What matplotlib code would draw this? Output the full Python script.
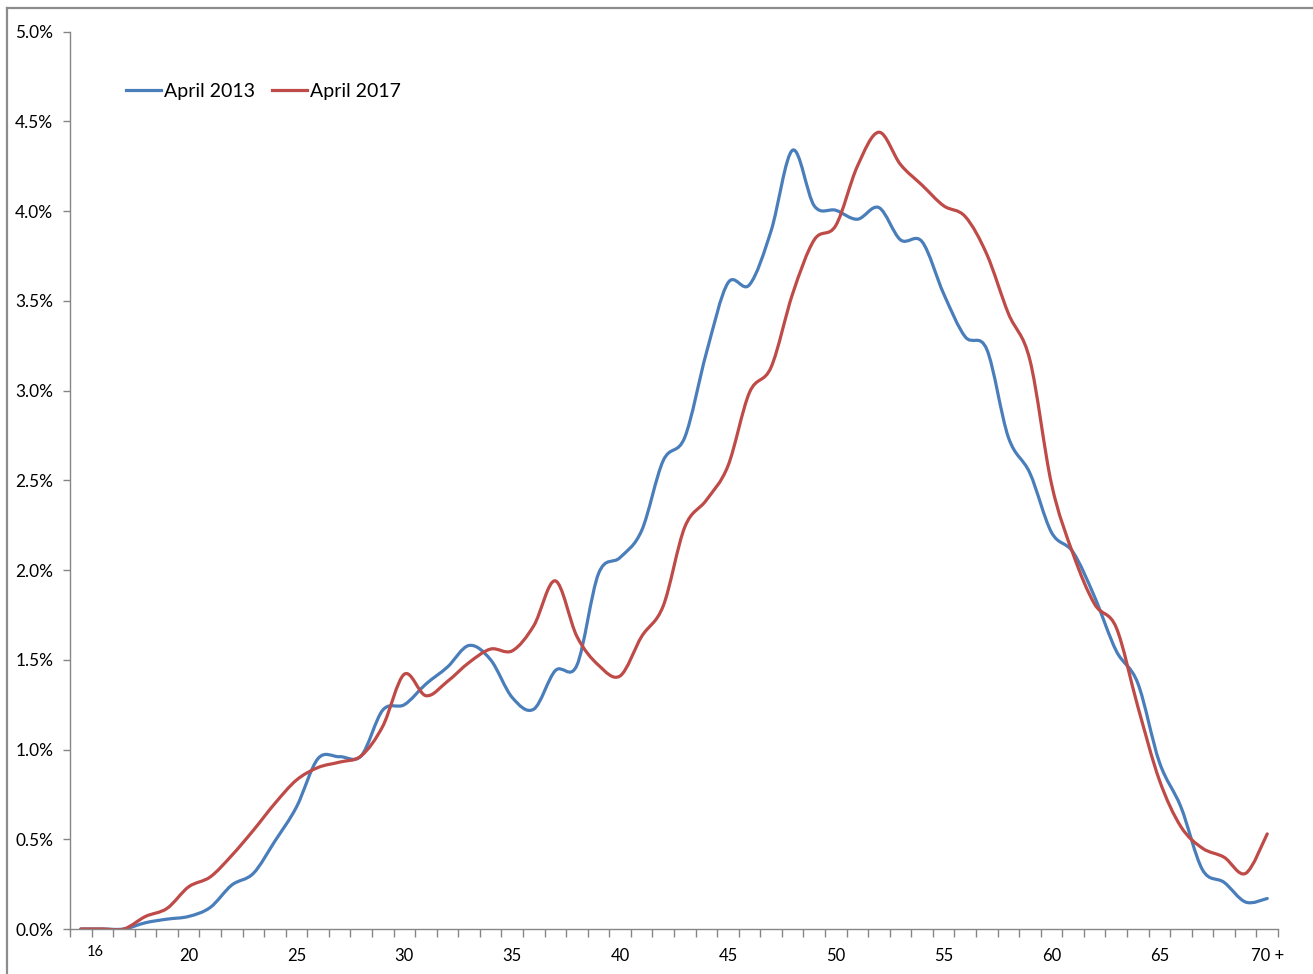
import numpy as np
import matplotlib
matplotlib.use("Agg")
import matplotlib.pyplot as plt
from matplotlib.path import Path
from matplotlib.patches import PathPatch
from matplotlib.lines import Line2D
from matplotlib.ticker import FuncFormatter

plt.rcParams['font.family'] = ['Lato', 'DejaVu Sans']

# ages 15 .. 70+, share of workforce in %
ages = list(range(15, 71))
april_2013 = [0.0, 0.0, 0.0, 0.035, 0.055, 0.07, 0.12, 0.245, 0.31, 0.49,
              0.68, 0.95, 0.96, 0.965, 1.22, 1.25, 1.365, 1.46, 1.58, 1.50,
              1.29, 1.225, 1.44, 1.47, 1.98, 2.07, 2.22, 2.61, 2.74, 3.21,
              3.60, 3.59, 3.89, 4.34, 4.03, 4.005, 3.955, 4.02, 3.84, 3.83,
              3.54, 3.30, 3.23, 2.74, 2.54, 2.21, 2.10, 1.85, 1.55, 1.37,
              0.93, 0.68, 0.33, 0.26, 0.15, 0.17]
april_2017 = [0.0, 0.0, 0.0, 0.07, 0.115, 0.235, 0.29, 0.41, 0.55, 0.70,
              0.83, 0.90, 0.93, 0.965, 1.13, 1.42, 1.30, 1.38, 1.485, 1.56,
              1.55, 1.69, 1.94, 1.63, 1.47, 1.41, 1.63, 1.80, 2.24, 2.39,
              2.58, 2.99, 3.13, 3.54, 3.84, 3.92, 4.25, 4.44, 4.26, 4.145,
              4.03, 3.97, 3.76, 3.43, 3.17, 2.48, 2.09, 1.81, 1.68, 1.24,
              0.83, 0.57, 0.45, 0.40, 0.31, 0.53]
label_ages = [20, 25, 30, 35, 40, 45, 50, 55, 60, 65, 70]
label_text = ['20', '25', '30', '35', '40', '45', '50', '55', '60', '65', '70 +']

blue = '#4A7EBB'
red = '#BE4B48'
grey = '#868686'


def smooth_path(y):
    # Excel style smoothed line: bezier segments through every point
    n = len(y)
    pts = np.column_stack([np.arange(n), np.asarray(y, dtype=float)])
    verts = [pts[0]]
    codes = [Path.MOVETO]
    for i in range(n - 1):
        p0 = pts[max(i - 1, 0)]
        p1 = pts[i]
        p2 = pts[i + 1]
        p3 = pts[min(i + 2, n - 1)]
        verts += [p1 + (p2 - p0) / 6, p2 - (p3 - p1) / 6, p2]
        codes += [Path.CURVE4] * 3
    return Path(verts, codes)


W, H = 1313, 974
fig = plt.figure(figsize=(W / 100, H / 100), dpi=100)
ax = fig.add_axes([70 / W, 45 / H, 1208 / W, 897.3 / H])

for series, col in [(april_2013, blue), (april_2017, red)]:
    ax.add_patch(PathPatch(smooth_path(series), facecolor='none', edgecolor=col,
                           lw=2.3, capstyle='round', joinstyle='round'))

ax.set_xlim(-0.5, len(ages) - 0.5)
ax.set_ylim(0, 5)

# y axis
ax.set_yticks(np.arange(0, 5.01, 0.5))
ax.yaxis.set_major_formatter(FuncFormatter(lambda v, p: f'{v:.1f}%'))
ax.tick_params(axis='y', length=5, width=1, color=grey, pad=7,
               labelsize=12.4, labelcolor='black')

# x axis: ticks between categories, labels every 5 years
ax.set_xticks(np.arange(-0.5, len(ages), 1))
ax.set_xticklabels([])
ax.set_xticks([ages.index(a) for a in label_ages], minor=True)
ax.set_xticklabels(label_text, minor=True)
ax.tick_params(axis='x', which='major', length=6, width=1, color=grey)
ax.tick_params(axis='x', which='minor', length=0, pad=14,
               labelsize=12, labelcolor='black')
ax.text(0.69, -0.026, '16', transform=ax.get_xaxis_transform(),
        ha='center', va='center', fontsize=10.5, color='black')

for s in ['top', 'right']:
    ax.spines[s].set_visible(False)
for s in ['left', 'bottom']:
    ax.spines[s].set_color(grey)
    ax.spines[s].set_linewidth(1)

handles = [Line2D([], [], color=blue, lw=2.3), Line2D([], [], color=red, lw=2.3)]
fig.legend(handles, ['April 2013', 'April 2017'], loc='center left',
           bbox_to_anchor=(126 / W, 1 - 91 / H), ncol=2, frameon=False,
           fontsize=14, handlelength=1.8, handletextpad=0.15,
           columnspacing=0.9, borderpad=0, borderaxespad=0)

# chart area border (only top and left edges are inside the picture)
fig.add_artist(Line2D([7 / W, 1], [1 - 8 / H, 1 - 8 / H], color='#8C8C8C', lw=1.6,
                      transform=fig.transFigure))
fig.add_artist(Line2D([7 / W, 7 / W], [0, 1 - 8 / H], color='#8C8C8C', lw=1.6,
                      transform=fig.transFigure))

fig.savefig('out.png', dpi=100)
